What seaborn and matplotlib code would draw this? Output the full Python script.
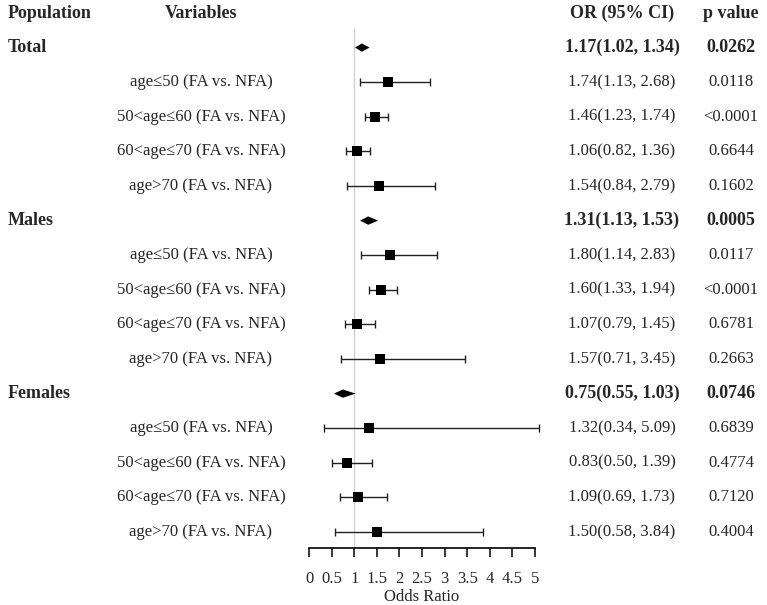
import seaborn as sns
import matplotlib.pyplot as plt
import matplotlib.transforms as mtransforms
import pandas as pd

# group level results
groups = ['Total', 'Males', 'Females']
group_or = [1.17, 1.31, 0.75]
group_lo = [1.02, 1.13, 0.55]
group_hi = [1.34, 1.53, 1.03]
group_p = ['0.0262', '0.0005', '0.0746']

# age subgroups (same four for each group)
subgroups = ['age≤50 (FA vs. NFA)', '50<age≤60 (FA vs. NFA)',
             '60<age≤70 (FA vs. NFA)', 'age>70 (FA vs. NFA)']
sub_or = [1.74, 1.46, 1.06, 1.54, 1.80, 1.60, 1.07, 1.57, 1.32, 0.83, 1.09, 1.50]
sub_lo = [1.13, 1.23, 0.82, 0.84, 1.14, 1.33, 0.79, 0.71, 0.34, 0.50, 0.69, 0.58]
sub_hi = [2.68, 1.74, 1.36, 2.79, 2.83, 1.94, 1.45, 3.45, 5.09, 1.39, 1.73, 3.84]
sub_p = ['0.0118', '<0.0001', '0.6644', '0.1602', '0.0117', '<0.0001',
         '0.6781', '0.2663', '0.6839', '0.4774', '0.7120', '0.4004']

x_ticks = [0, 0.5, 1, 1.5, 2, 2.5, 3, 3.5, 4, 4.5, 5]
x_tick_labels = ['0', '0.5', '1', '1.5', '2', '2.5', '3', '3.5', '4', '4.5', '5']

sns.set_theme(style='white')
plt.rcParams['font.family'] = ['Liberation Serif', 'DejaVu Serif']

# build row table: one group row followed by its subgroups
rows = []
k = 0
for g in range(len(groups)):
    rows.append({'row': len(rows) + 1, 'label': groups[g], 'or': group_or[g], 'lo': group_lo[g],
                 'hi': group_hi[g], 'p': group_p[g], 'group': True})
    for s in subgroups:
        rows.append({'row': len(rows) + 1, 'label': s, 'or': sub_or[k], 'lo': sub_lo[k],
                     'hi': sub_hi[k], 'p': sub_p[k], 'group': False})
        k += 1
df = pd.DataFrame(rows)
subs = df[~df['group']]
grps = df[df['group']]

W, H = 767, 605
fig = plt.figure(figsize=(W / 100, H / 100), dpi=100)
ax = fig.add_axes([309 / W, (H - 548) / H, 226 / W, 548 / H])

row_px = 34.6
top_px = 13
ax.set_ylim((548 - top_px) / row_px, -top_px / row_px)
ax.set_xlim(0, 5)

# reference line at OR = 1
ax.vlines(1, (28 - top_px) / row_px, (548 - top_px) / row_px, color='#d0d0d0', lw=1, zorder=0)

# subgroup estimates
ax.errorbar(subs['or'], subs['row'], xerr=[subs['or'] - subs['lo'], subs['hi'] - subs['or']],
            fmt='none', ecolor='#222222', elinewidth=1.0, capsize=3, capthick=1.0, clip_on=False)
sns.scatterplot(data=subs, x='or', y='row', marker='s', s=42, color='black',
                edgecolor='black', linewidth=0, ax=ax, zorder=3, clip_on=False)

# group estimates as diamonds
dh = 0.12
for _, r in grps.iterrows():
    ax.fill([r['lo'], r['or'], r['hi'], r['or']],
            [r['row'], r['row'] - dh, r['row'], r['row'] + dh], color='black', lw=0)

for side in ['top', 'left', 'right']:
    ax.spines[side].set_visible(False)
ax.spines['bottom'].set_color('black')
ax.spines['bottom'].set_linewidth(1.2)
ax.set_xticks(x_ticks)
ax.set_xticklabels(x_tick_labels)
ax.set_yticks([])
ax.tick_params(axis='x', bottom=True, direction='out', length=6.5, width=1.1,
               color='black', labelsize=12, pad=10)
ax.set_xlabel('Odds Ratio', fontsize=12, labelpad=1.5)
ax.set_ylabel('')

# text columns
trans = mtransforms.blended_transform_factory(fig.transFigure, ax.transData)
hdr = dict(fontsize=13, fontweight='bold', va='center', transform=trans)
ax.text(8 / W, 0, 'Population', ha='left', **hdr)
ax.text(201 / W, 0, 'Variables', ha='center', **hdr)
ax.text(622 / W, 0, 'OR (95% CI)', ha='center', **hdr)
ax.text(731 / W, 0, 'p value', ha='center', **hdr)

for _, r in df.iterrows():
    ci = '{:.2f}({:.2f}, {:.2f})'.format(r['or'], r['lo'], r['hi'])
    if r['group']:
        ax.text(8 / W, r['row'], r['label'], ha='left', **hdr)
        ax.text(622 / W, r['row'], ci, ha='center', **hdr)
        ax.text(731 / W, r['row'], r['p'], ha='center', **hdr)
    else:
        txt = dict(fontsize=12, va='center', transform=trans)
        ax.text(201 / W, r['row'], r['label'], ha='center', **txt)
        ax.text(622 / W, r['row'], ci, ha='center', **txt)
        ax.text(731 / W, r['row'], r['p'], ha='center', **txt)

fig.savefig('out.png', dpi=100, facecolor='white')
